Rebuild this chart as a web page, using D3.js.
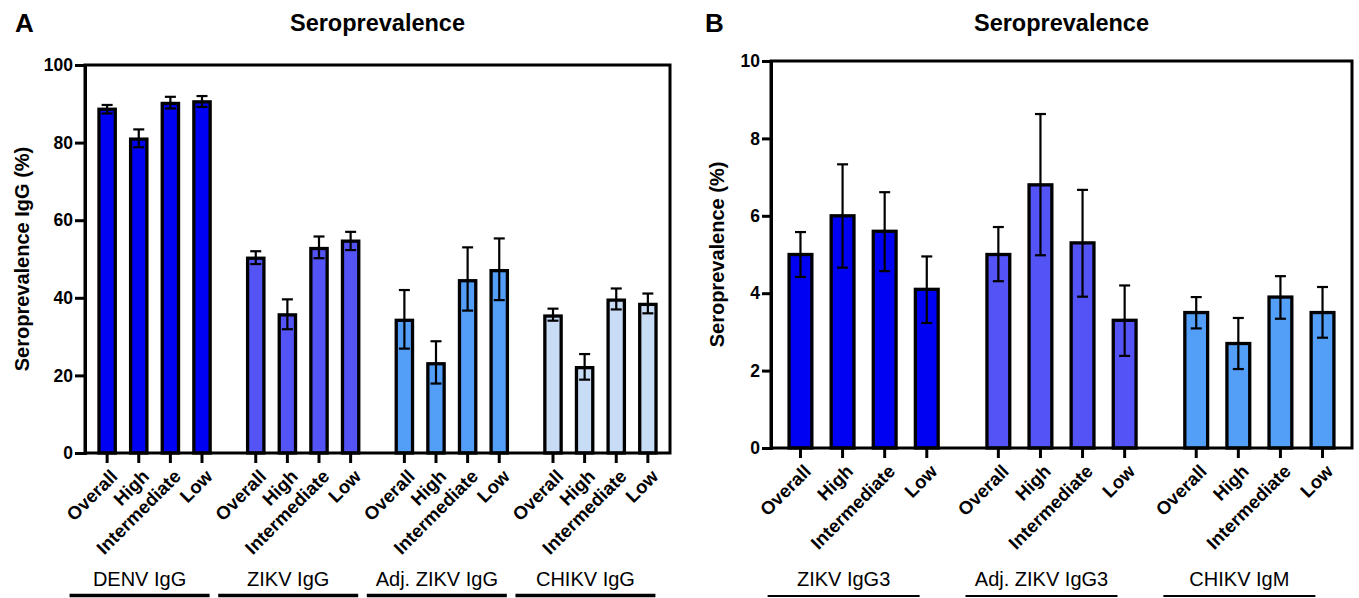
<!DOCTYPE html>
<html>
<head>
<meta charset="utf-8">
<script src="https://cdn.jsdelivr.net/npm/d3@7"></script>
<style>
  body { margin: 0; background: #fff; }
  text { font-family: "Liberation Sans", Arial, sans-serif; fill: #000; }
</style>
</head>
<body>
<svg id="chart" width="1359" height="598"></svg>
<script>
// categories shared by both panels
var levels = ["Overall", "High", "Intermediate", "Low"];

// panel A - IgG
var groupsA = ["DENV IgG", "ZIKV IgG", "Adj. ZIKV IgG", "CHIKV IgG"];
var valuesA = [[88.6, 80.9, 90.1, 90.5], [50.2, 35.6, 52.7, 54.6], [34.2, 23.0, 44.4, 47.0], [35.3, 22.0, 39.4, 38.3]];
var lowA = [[87.5, 78.8, 88.8, 89.2], [48.7, 31.9, 50.2, 52.3], [26.9, 17.9, 36.7, 39.4], [34.1, 18.9, 37.0, 36.0]];
var highA = [[89.7, 83.4, 91.8, 92.0], [52.0, 39.6, 55.8, 57.0], [42.0, 28.8, 53.0, 55.3], [37.2, 25.5, 42.4, 41.1]];
var ticksA = [0, 20, 40, 60, 80, 100];

// panel B - IgG3 / IgM
var groupsB = ["ZIKV IgG3", "Adj. ZIKV IgG3", "CHIKV IgM"];
var valuesB = [[5.0, 6.0, 5.6, 4.1], [5.0, 6.8, 5.3, 3.3], [3.5, 2.7, 3.9, 3.5]];
var lowB = [[4.42, 4.66, 4.57, 3.23], [4.31, 4.98, 3.91, 2.38], [3.09, 2.04, 3.34, 2.85]];
var highB = [[5.58, 7.33, 6.61, 4.95], [5.71, 8.63, 6.67, 4.20], [3.90, 3.36, 4.44, 4.16]];
var ticksB = [0, 2, 4, 6, 8, 10];

var colors = ["#0000f2", "#5353f6", "#539ff8", "#c9dcf5"];

var svg = d3.select("#chart");
var font = '"Liberation Sans", Arial, sans-serif';

function panel(opt) {
  var g = svg.append("g");
  var nG = opt.groups.length;
  var gap = 0.7;
  var lastSlot = (nG - 1) * (levels.length + gap) + levels.length - 1;
  var x = d3.scaleLinear().domain([-gap, lastSlot + gap]).range([opt.left, opt.right]);
  var y = d3.scaleLinear().domain([0, opt.max]).range([opt.bottom, opt.top]);
  var slotW = x(1) - x(0);
  var barW = slotW * 0.62 - 3.3;

  var rows = [];
  opt.groups.forEach(function (grp, gi) {
    levels.forEach(function (lv, li) {
      rows.push({ g: gi, l: lv, slot: gi * (levels.length + gap) + li,
        v: opt.values[gi][li], lo: opt.low[gi][li], hi: opt.high[gi][li] });
    });
  });

  // bars
  g.selectAll("rect.bar").data(rows).enter().append("rect")
    .attr("class", "bar")
    .attr("x", function (d) { return x(d.slot) - barW / 2; })
    .attr("width", barW)
    .attr("y", function (d) { return y(d.v); })
    .attr("height", function (d) { return y(0) - y(d.v); })
    .attr("fill", function (d) { return colors[d.g]; })
    .attr("stroke", "#000").attr("stroke-width", 3.3);

  // error bars
  var eb = g.selectAll("g.err").data(rows).enter().append("g").attr("class", "err")
    .attr("stroke", "#000").attr("stroke-width", 2.2);
  eb.append("line")
    .attr("x1", function (d) { return x(d.slot); }).attr("x2", function (d) { return x(d.slot); })
    .attr("y1", function (d) { return y(d.lo); }).attr("y2", function (d) { return y(d.hi); });
  ["lo", "hi"].forEach(function (k) {
    eb.append("line")
      .attr("x1", function (d) { return x(d.slot) - 5.5; }).attr("x2", function (d) { return x(d.slot) + 5.5; })
      .attr("y1", function (d) { return y(d[k]); }).attr("y2", function (d) { return y(d[k]); });
  });

  // frame
  g.append("rect").attr("x", opt.left).attr("y", opt.top)
    .attr("width", opt.right - opt.left).attr("height", opt.bottom - opt.top)
    .attr("fill", "none").attr("stroke", "#000").attr("stroke-width", 3);

  // y axis
  var ya = g.append("g").attr("transform", "translate(" + opt.left + ",0)")
    .call(d3.axisLeft(y).tickValues(opt.ticks).tickSize(opt.tick).tickPadding(2));
  ya.select(".domain").attr("stroke-width", 3);
  ya.selectAll(".tick line").attr("stroke-width", 3);
  ya.selectAll(".tick text").attr("font-family", font).attr("font-size", 17.5).attr("font-weight", "bold");

  // x ticks and rotated labels
  var xt = g.selectAll("g.xt").data(rows).enter().append("g").attr("class", "xt");
  xt.append("line")
    .attr("x1", function (d) { return x(d.slot); }).attr("x2", function (d) { return x(d.slot); })
    .attr("y1", opt.bottom).attr("y2", opt.bottom + 10)
    .attr("stroke", "#000").attr("stroke-width", 3);
  xt.append("text")
    .attr("transform", function (d) { return "translate(" + (x(d.slot) + 7) + "," + (opt.bottom + 20) + ") rotate(-45)"; })
    .attr("text-anchor", "end").attr("dy", "0.35em")
    .attr("font-size", 18.5).attr("font-weight", "bold")
    .text(function (d) { return d.l; });

  // group labels with underline
  opt.groups.forEach(function (grp, gi) {
    var c = (x(gi * (levels.length + gap)) + x(gi * (levels.length + gap) + levels.length - 1)) / 2 - opt.shift;
    g.append("text").attr("x", c).attr("y", 586).attr("text-anchor", "middle")
      .attr("font-size", 20).text(grp);
    g.append("line").attr("x1", c - opt.lineHalf).attr("x2", c + opt.lineHalf)
      .attr("y1", opt.lineY).attr("y2", opt.lineY).attr("stroke", "#000").attr("stroke-width", opt.lineW);
  });

  // title, panel letter, y label
  g.append("text").attr("x", (opt.left + opt.right) / 2).attr("y", 31)
    .attr("text-anchor", "middle").attr("font-size", 23.5).attr("font-weight", "bold").text("Seroprevalence");
  g.append("text").attr("x", opt.letterX).attr("y", 32)
    .attr("font-size", 26).attr("font-weight", "bold").text(opt.letter);
  g.append("text")
    .attr("transform", "translate(" + opt.ylabX + "," + ((opt.top + opt.bottom) / 2) + ") rotate(-90)")
    .attr("text-anchor", "middle").attr("font-size", 20).attr("font-weight", "bold").text(opt.ylab);
}

panel({ groups: groupsA, values: valuesA, low: lowA, high: highA, ticks: ticksA, max: 100,
  left: 85, right: 670, top: 65, bottom: 453, tick: 10, shift: 15, lineHalf: 70, lineW: 3.5, lineY: 595.5,
  letter: "A", letterX: 15, ylab: "Seroprevalence IgG (%)", ylabX: 29 });

panel({ groups: groupsB, values: valuesB, low: lowB, high: highB, ticks: ticksB, max: 10,
  left: 771, right: 1352, top: 61, bottom: 448, tick: 9, shift: 20, lineHalf: 76, lineW: 2, lineY: 596,
  letter: "B", letterX: 705, ylab: "Seroprevalence (%)", ylabX: 724 });
</script>
</body>
</html>
